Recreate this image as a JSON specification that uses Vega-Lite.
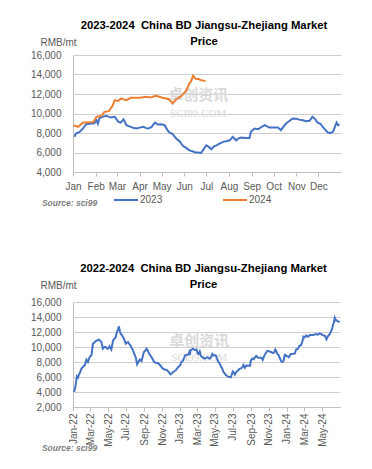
{
  "$schema": "https://vega.github.io/schema/vega-lite/v6.json",
  "background": "white",
  "autosize": {"type": "pad"},
  "padding": {"left": 30, "top": 19, "right": 8, "bottom": 4},
  "spacing": 55,
  "config": {
    "view": {"stroke": null},
    "font": "Liberation Sans",
    "axis": {
      "labelFont": "Liberation Sans",
      "labelFontSize": 10,
      "labelColor": "#595959",
      "domainColor": "#bfbfbf",
      "tickColor": "#bfbfbf",
      "gridColor": "#cfcfcf"
    },
    "title": {"font": "Liberation Sans", "fontSize": 11.3, "fontWeight": "bold", "color": "#000000", "lineHeight": 16}
  },
  "datasets": {
    "prices": [
      {"date": "2022-01-04", "price": 4000}, {"date": "2022-01-07", "price": 4300}, {"date": "2022-01-10", "price": 4890},
      {"date": "2022-01-14", "price": 6090}, {"date": "2022-01-18", "price": 5900}, {"date": "2022-01-21", "price": 6300},
      {"date": "2022-01-25", "price": 6600}, {"date": "2022-01-30", "price": 7120}, {"date": "2022-02-05", "price": 7400},
      {"date": "2022-02-10", "price": 7560}, {"date": "2022-02-16", "price": 8320}, {"date": "2022-02-21", "price": 8000},
      {"date": "2022-02-27", "price": 8670}, {"date": "2022-03-05", "price": 8890}, {"date": "2022-03-08", "price": 9800},
      {"date": "2022-03-10", "price": 10450}, {"date": "2022-03-15", "price": 10600}, {"date": "2022-03-20", "price": 10800},
      {"date": "2022-03-26", "price": 10900}, {"date": "2022-03-31", "price": 10980}, {"date": "2022-04-04", "price": 10850},
      {"date": "2022-04-08", "price": 10670}, {"date": "2022-04-13", "price": 9780}, {"date": "2022-04-18", "price": 10000},
      {"date": "2022-04-23", "price": 10000}, {"date": "2022-04-27", "price": 9800}, {"date": "2022-05-01", "price": 9780},
      {"date": "2022-05-06", "price": 10090}, {"date": "2022-05-12", "price": 9650}, {"date": "2022-05-18", "price": 10890},
      {"date": "2022-05-23", "price": 11100}, {"date": "2022-05-27", "price": 11330}, {"date": "2022-05-31", "price": 12000},
      {"date": "2022-06-04", "price": 12400}, {"date": "2022-06-07", "price": 12760}, {"date": "2022-06-10", "price": 12100},
      {"date": "2022-06-13", "price": 11780}, {"date": "2022-06-17", "price": 11600}, {"date": "2022-06-21", "price": 11330},
      {"date": "2022-06-25", "price": 11000}, {"date": "2022-06-30", "price": 10450}, {"date": "2022-07-04", "price": 10600},
      {"date": "2022-07-08", "price": 10670}, {"date": "2022-07-12", "price": 10400}, {"date": "2022-07-16", "price": 10230},
      {"date": "2022-07-20", "price": 9900}, {"date": "2022-07-25", "price": 9560}, {"date": "2022-07-30", "price": 9000},
      {"date": "2022-08-03", "price": 8670}, {"date": "2022-08-08", "price": 7690}, {"date": "2022-08-12", "price": 8000},
      {"date": "2022-08-17", "price": 8320}, {"date": "2022-08-23", "price": 8130}, {"date": "2022-08-27", "price": 8700},
      {"date": "2022-08-31", "price": 9330}, {"date": "2022-09-05", "price": 9500}, {"date": "2022-09-09", "price": 9780},
      {"date": "2022-09-14", "price": 9500}, {"date": "2022-09-18", "price": 9110}, {"date": "2022-09-22", "price": 8900},
      {"date": "2022-09-26", "price": 8670}, {"date": "2022-10-01", "price": 8300}, {"date": "2022-10-05", "price": 8000},
      {"date": "2022-10-11", "price": 7900}, {"date": "2022-10-18", "price": 7870}, {"date": "2022-10-25", "price": 7600},
      {"date": "2022-11-04", "price": 7120}, {"date": "2022-11-10", "price": 7000}, {"date": "2022-11-16", "price": 6980},
      {"date": "2022-11-23", "price": 6700}, {"date": "2022-11-30", "price": 6360}, {"date": "2022-12-05", "price": 6500},
      {"date": "2022-12-09", "price": 6670}, {"date": "2022-12-15", "price": 6800}, {"date": "2022-12-20", "price": 6980},
      {"date": "2022-12-26", "price": 7300},
      {"date": "2023-01-03", "price": 7600}, {"date": "2023-01-05", "price": 7940}, {"date": "2023-01-10", "price": 8100},
      {"date": "2023-01-14", "price": 8400}, {"date": "2023-01-19", "price": 8900}, {"date": "2023-01-26", "price": 8970},
      {"date": "2023-01-30", "price": 9000}, {"date": "2023-02-02", "price": 9300}, {"date": "2023-02-04", "price": 8950},
      {"date": "2023-02-06", "price": 9500}, {"date": "2023-02-10", "price": 9650}, {"date": "2023-02-15", "price": 9760},
      {"date": "2023-02-19", "price": 9650}, {"date": "2023-02-22", "price": 9600}, {"date": "2023-02-27", "price": 9660},
      {"date": "2023-03-03", "price": 9140}, {"date": "2023-03-06", "price": 9070}, {"date": "2023-03-10", "price": 9400},
      {"date": "2023-03-14", "price": 8800}, {"date": "2023-03-19", "price": 8650}, {"date": "2023-03-23", "price": 8530},
      {"date": "2023-03-28", "price": 8460}, {"date": "2023-04-01", "price": 8550}, {"date": "2023-04-06", "price": 8630},
      {"date": "2023-04-10", "price": 8500}, {"date": "2023-04-13", "price": 8460}, {"date": "2023-04-17", "price": 8600},
      {"date": "2023-04-22", "price": 9070}, {"date": "2023-04-26", "price": 8870}, {"date": "2023-05-01", "price": 8900},
      {"date": "2023-05-05", "price": 8800}, {"date": "2023-05-09", "price": 8300}, {"date": "2023-05-12", "price": 8040},
      {"date": "2023-05-16", "price": 7900}, {"date": "2023-05-21", "price": 7430}, {"date": "2023-05-26", "price": 7100},
      {"date": "2023-05-30", "price": 6680}, {"date": "2023-06-04", "price": 6450}, {"date": "2023-06-08", "price": 6220},
      {"date": "2023-06-13", "price": 6100}, {"date": "2023-06-17", "price": 5990}, {"date": "2023-06-20", "price": 6000},
      {"date": "2023-06-24", "price": 5960}, {"date": "2023-06-27", "price": 6300}, {"date": "2023-07-01", "price": 6740},
      {"date": "2023-07-04", "price": 6600}, {"date": "2023-07-08", "price": 6330}, {"date": "2023-07-11", "price": 6600},
      {"date": "2023-07-15", "price": 6740}, {"date": "2023-07-19", "price": 6900}, {"date": "2023-07-24", "price": 7090},
      {"date": "2023-07-28", "price": 7150}, {"date": "2023-08-02", "price": 7250}, {"date": "2023-08-06", "price": 7600},
      {"date": "2023-08-11", "price": 7250}, {"date": "2023-08-14", "price": 7450}, {"date": "2023-08-18", "price": 7530},
      {"date": "2023-08-24", "price": 7500}, {"date": "2023-08-29", "price": 7500}, {"date": "2023-08-31", "price": 8120},
      {"date": "2023-09-05", "price": 8460}, {"date": "2023-09-10", "price": 8380}, {"date": "2023-09-14", "price": 8600},
      {"date": "2023-09-19", "price": 8800}, {"date": "2023-09-25", "price": 8560}, {"date": "2023-10-01", "price": 8560},
      {"date": "2023-10-07", "price": 8560}, {"date": "2023-10-11", "price": 8290}, {"date": "2023-10-14", "price": 8600},
      {"date": "2023-10-18", "price": 8970}, {"date": "2023-10-22", "price": 9200}, {"date": "2023-10-27", "price": 9480},
      {"date": "2023-11-01", "price": 9450}, {"date": "2023-11-05", "price": 9370}, {"date": "2023-11-10", "price": 9300},
      {"date": "2023-11-14", "price": 9210}, {"date": "2023-11-19", "price": 9250}, {"date": "2023-11-23", "price": 9660},
      {"date": "2023-11-27", "price": 9400}, {"date": "2023-11-30", "price": 9070}, {"date": "2023-12-04", "price": 8950},
      {"date": "2023-12-07", "price": 8630}, {"date": "2023-12-11", "price": 8300}, {"date": "2023-12-14", "price": 8040},
      {"date": "2023-12-18", "price": 8000}, {"date": "2023-12-21", "price": 8120}, {"date": "2023-12-23", "price": 8500},
      {"date": "2023-12-26", "price": 9070}, {"date": "2023-12-28", "price": 8800}, {"date": "2023-12-30", "price": 8870},
      {"date": "2024-01-02", "price": 8800}, {"date": "2024-01-08", "price": 8630}, {"date": "2024-01-15", "price": 9070},
      {"date": "2024-01-19", "price": 9070}, {"date": "2024-01-24", "price": 9100}, {"date": "2024-01-29", "price": 9140},
      {"date": "2024-02-02", "price": 9660}, {"date": "2024-02-09", "price": 9760}, {"date": "2024-02-13", "price": 10170},
      {"date": "2024-02-19", "price": 10240}, {"date": "2024-02-24", "price": 10790}, {"date": "2024-02-27", "price": 11370},
      {"date": "2024-03-02", "price": 11270}, {"date": "2024-03-07", "price": 11540}, {"date": "2024-03-09", "price": 11470},
      {"date": "2024-03-14", "price": 11370}, {"date": "2024-03-20", "price": 11610}, {"date": "2024-03-27", "price": 11610},
      {"date": "2024-04-01", "price": 11610}, {"date": "2024-04-10", "price": 11720}, {"date": "2024-04-16", "price": 11650},
      {"date": "2024-04-23", "price": 11820}, {"date": "2024-04-28", "price": 11720}, {"date": "2024-05-02", "price": 11610},
      {"date": "2024-05-07", "price": 11540}, {"date": "2024-05-11", "price": 11470}, {"date": "2024-05-16", "price": 11030},
      {"date": "2024-05-21", "price": 11470}, {"date": "2024-05-27", "price": 11720}, {"date": "2024-05-29", "price": 11890},
      {"date": "2024-06-03", "price": 12300}, {"date": "2024-06-05", "price": 12580}, {"date": "2024-06-08", "price": 13090},
      {"date": "2024-06-10", "price": 13260}, {"date": "2024-06-13", "price": 13880}, {"date": "2024-06-17", "price": 13530},
      {"date": "2024-06-21", "price": 13530}, {"date": "2024-06-23", "price": 13430}, {"date": "2024-06-30", "price": 13320}
    ]
  },
  "vconcat": [
    {
      "width": 268,
      "height": 117,
      "title": {"text": ["2023-2024\u00a0 China BD Jiangsu-Zhejiang Market", "Price"], "anchor": "middle", "frame": "group", "dx": -3, "dy": 14},
      "resolve": {"axis": {"x": "independent", "y": "independent"}},
      "layer": [
        {
          "data": {"values": [{"line1": "卓创资讯", "line2": "SCI99.COM"}]},
          "mark": {"type": "text", "font": "Noto Sans CJK SC", "fontWeight": "bold", "fontSize": 15, "color": "#d9d9d9", "align": "center", "baseline": "middle"},
          "encoding": {
            "text": {"field": "line1"},
            "x": {"datum": {"year": 2012, "month": 6, "date": 20}, "type": "temporal", "axis": null,
                  "scale": {"domain": [{"year": 2012, "month": 1, "date": 1}, {"year": 2013, "month": 1, "date": 1}]}},
            "y": {"datum": 11850, "type": "quantitative", "axis": null, "scale": {"domain": [4000, 16000]}}
          }
        },
        {
          "data": {"values": [{"line1": "卓创资讯", "line2": "SCI99.COM"}]},
          "mark": {"type": "text", "font": "Liberation Serif", "fontSize": 11, "color": "#d9d9d9", "align": "center", "baseline": "middle"},
          "encoding": {
            "text": {"field": "line2"},
            "x": {"datum": {"year": 2012, "month": 6, "date": 20}, "type": "temporal", "axis": null,
                  "scale": {"domain": [{"year": 2012, "month": 1, "date": 1}, {"year": 2013, "month": 1, "date": 1}]}},
            "y": {"datum": 9950, "type": "quantitative", "axis": null, "scale": {"domain": [4000, 16000]}}
          }
        },
        {
          "data": {"name": "prices"},
          "transform": [{"filter": {"field": "date", "gte": {"year": 2023, "month": 1, "date": 1}}}],
          "mark": {"type": "line", "strokeWidth": 2},
          "encoding": {
            "x": {
              "field": "date", "timeUnit": "monthdate", "type": "temporal",
              "scale": {"domain": [{"year": 2012, "month": 1, "date": 1}, {"year": 2013, "month": 1, "date": 1}]},
              "axis": {
                "values": [
                  {"year": 2012, "month": 1, "date": 1}, {"year": 2012, "month": 2, "date": 1}, {"year": 2012, "month": 3, "date": 1},
                  {"year": 2012, "month": 4, "date": 1}, {"year": 2012, "month": 5, "date": 1}, {"year": 2012, "month": 6, "date": 1},
                  {"year": 2012, "month": 7, "date": 1}, {"year": 2012, "month": 8, "date": 1}, {"year": 2012, "month": 9, "date": 1},
                  {"year": 2012, "month": 10, "date": 1}, {"year": 2012, "month": 11, "date": 1}, {"year": 2012, "month": 12, "date": 1}
                ],
                "format": "%b", "grid": false, "ticks": true, "tickSize": 4, "labelPadding": 5, "labelFlush": false, "labelOverlap": false,
                "title": "Source: sci99", "titleFontSize": 8.5, "titleFontStyle": "italic", "titleFontWeight": "bold",
                "titleColor": "#7f7f7f", "titleAlign": "left", "titleBaseline": "alphabetic", "titleX": -31.6, "titleY": 33
              }
            },
            "y": {
              "field": "price", "type": "quantitative",
              "scale": {"domain": [4000, 16000]},
              "axis": {
                "values": [4000, 6000, 8000, 10000, 12000, 14000, 16000], "format": ",.0f",
                "ticks": false, "labelPadding": 12, "grid": true, "labelOverlap": false,
                "title": "RMB/mt", "titleAngle": 0, "titleFontSize": 10, "titleFontWeight": "normal", "titleColor": "#595959",
                "titleAlign": "left", "titleBaseline": "alphabetic", "titleX": -33, "titleY": -10
              }
            },
            "color": {
              "field": "date", "timeUnit": "year", "type": "nominal",
              "scale": {"range": ["#4472C4", "#ED7D31"]},
              "legend": {
                "orient": "none", "legendX": 40, "legendY": 132, "direction": "horizontal", "title": null,
                "symbolType": "stroke", "symbolSize": 576, "symbolStrokeWidth": 2, "labelFontSize": 10, "labelColor": "#595959",
                "labelOffset": 1, "columnPadding": 56
              }
            }
          }
        }
      ]
    },
    {
      "width": 267,
      "height": 105,
      "title": {"text": ["2022-2024\u00a0 China BD Jiangsu-Zhejiang Market", "Price"], "anchor": "middle", "frame": "group", "dx": -3, "dy": 14},
      "resolve": {"axis": {"x": "independent", "y": "independent"}},
      "layer": [
        {
          "data": {"values": [{"line1": "卓创资讯", "line2": "SCI99.COM"}]},
          "mark": {"type": "text", "font": "Noto Sans CJK SC", "fontWeight": "bold", "fontSize": 15, "color": "#d9d9d9", "align": "center", "baseline": "middle"},
          "encoding": {
            "text": {"field": "line1"},
            "x": {"datum": {"year": 2023, "month": 3, "date": 8}, "type": "temporal", "axis": null,
                  "scale": {"domain": [{"year": 2022, "month": 1, "date": 1}, {"year": 2024, "month": 7, "date": 1}]}},
            "y": {"datum": 10850, "type": "quantitative", "axis": null, "scale": {"domain": [2000, 16000]}}
          }
        },
        {
          "data": {"values": [{"line1": "卓创资讯", "line2": "SCI99.COM"}]},
          "mark": {"type": "text", "font": "Liberation Serif", "fontSize": 11, "color": "#d9d9d9", "align": "center", "baseline": "middle"},
          "encoding": {
            "text": {"field": "line2"},
            "x": {"datum": {"year": 2023, "month": 3, "date": 8}, "type": "temporal", "axis": null,
                  "scale": {"domain": [{"year": 2022, "month": 1, "date": 1}, {"year": 2024, "month": 7, "date": 1}]}},
            "y": {"datum": 8600, "type": "quantitative", "axis": null, "scale": {"domain": [2000, 16000]}}
          }
        },
        {
          "data": {"name": "prices"},
          "mark": {"type": "line", "strokeWidth": 2, "color": "#4472C4"},
          "encoding": {
            "x": {
              "field": "date", "type": "temporal",
              "scale": {"domain": [{"year": 2022, "month": 1, "date": 1}, {"year": 2024, "month": 7, "date": 1}]},
              "axis": {
                "values": [
                  {"year": 2022, "month": 1, "date": 1}, {"year": 2022, "month": 3, "date": 1}, {"year": 2022, "month": 5, "date": 1},
                  {"year": 2022, "month": 7, "date": 1}, {"year": 2022, "month": 9, "date": 1}, {"year": 2022, "month": 11, "date": 1},
                  {"year": 2023, "month": 1, "date": 1}, {"year": 2023, "month": 3, "date": 1}, {"year": 2023, "month": 5, "date": 1},
                  {"year": 2023, "month": 7, "date": 1}, {"year": 2023, "month": 9, "date": 1}, {"year": 2023, "month": 11, "date": 1},
                  {"year": 2024, "month": 1, "date": 1}, {"year": 2024, "month": 3, "date": 1}, {"year": 2024, "month": 5, "date": 1}
                ],
                "format": "%b-%y", "labelAngle": -90, "grid": false, "ticks": true, "tickSize": 4, "labelPadding": 2,
                "labelFlush": false, "labelOverlap": false,
                "title": "Source: sci99", "titleFontSize": 8.5, "titleFontStyle": "italic", "titleFontWeight": "bold",
                "titleColor": "#7f7f7f", "titleAlign": "left", "titleBaseline": "alphabetic", "titleX": -31.6, "titleY": 43
              }
            },
            "y": {
              "field": "price", "type": "quantitative",
              "scale": {"domain": [2000, 16000]},
              "axis": {
                "values": [2000, 4000, 6000, 8000, 10000, 12000, 14000, 16000], "format": ",.0f",
                "ticks": false, "labelPadding": 12, "grid": true, "labelOverlap": false,
                "title": "RMB/mt", "titleAngle": 0, "titleFontSize": 10, "titleFontWeight": "normal", "titleColor": "#595959",
                "titleAlign": "left", "titleBaseline": "alphabetic", "titleX": -33, "titleY": -14
              }
            }
          }
        }
      ]
    }
  ]
}
